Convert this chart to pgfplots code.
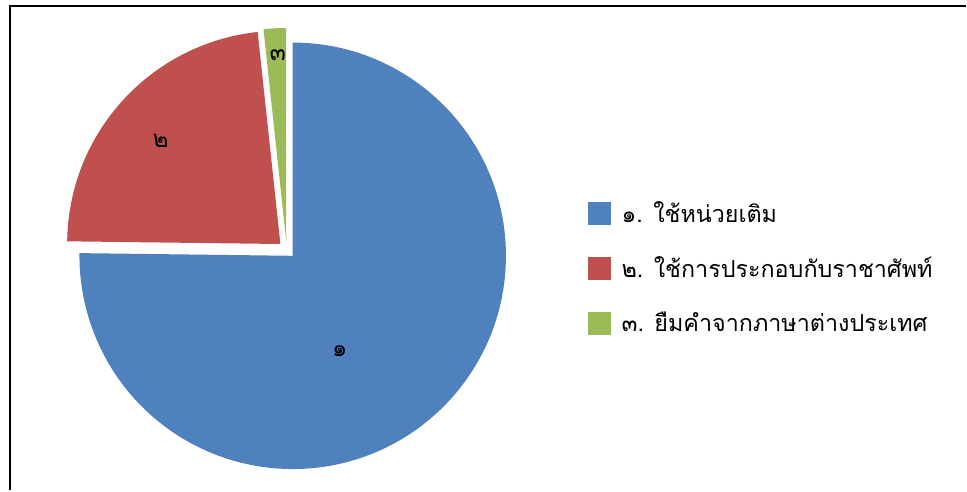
\documentclass[border=0pt]{standalone}
\usepackage{pgfplots}
\pgfplotsset{compat=1.18}
\usepackage{pgfplotstable}
\usepackage{fontspec}
\newfontfamily\thaifont[Script=Thai]{Loma}
\definecolor{cblue}{HTML}{4F81BD}
\definecolor{cred}{HTML}{C0504D}
\definecolor{cgreen}{HTML}{9BBB59}

% shares of the three categories (percent)
\pgfplotstableread{
share
75.2
23.1
1.7
}\piedata

\begin{document}%
\begin{tikzpicture}
\pgfplotstablegetelem{0}{share}\of\piedata \let\va\pgfplotsretval
\pgfplotstablegetelem{1}{share}\of\piedata \let\vb\pgfplotsretval
\pgfplotstablegetelem{2}{share}\of\piedata \let\vc\pgfplotsretval
\pgfmathsetmacro\tot{\va+\vb+\vc}
\pgfmathsetmacro\sA{90}
\pgfmathsetmacro\eA{\sA-360*(\va/\tot)}
\pgfmathsetmacro\mA{(\sA+\eA)/2}
\pgfmathsetmacro\sB{\eA}
\pgfmathsetmacro\eB{\sB-360*(\vb/\tot)}
\pgfmathsetmacro\mB{(\sB+\eB)/2}
\pgfmathsetmacro\sC{\eB}
\pgfmathsetmacro\eC{\sC-360*(\vc/\tot)}
\pgfmathsetmacro\mC{(\sC+\eC)/2}
\def\R{160.1pt}
\def\X{6.4pt}
\begin{axis}[
  x=0.75pt, y=0.75pt,
  xmin=0, xmax=967, ymin=0, ymax=491,
  hide axis, clip=false,
  legend style={at={(axis cs:589,289)}, anchor=north west, draw=none, fill=none,
    inner sep=0pt, outer sep=0pt, row sep=24pt,
    nodes={inner sep=0pt, anchor=west},
    font=\thaifont\fontsize{17.5}{20}\selectfont,
    /tikz/every odd column/.append style={column sep=8pt}},
  legend cell align=left,
  legend image code/.code={\fill[#1] (0pt,-8.25pt) rectangle (16.5pt,8.25pt);},
]
\path (axis cs:0,0) rectangle (axis cs:967,491);
\draw[line width=1.5pt] (axis cs:10,0) -- (axis cs:10,485) -- (axis cs:967,485);
\fill[cblue] (axis cs:287,241) ++(\mA:\X) -- ++(\sA:\R) arc[start angle=\sA, end angle=\eA, radius=\R] -- cycle;
\fill[cred] (axis cs:287,241) ++(\mB:\X) -- ++(\sB:\R) arc[start angle=\sB, end angle=\eB, radius=\R] -- cycle;
\fill[cgreen] (axis cs:287,241) ++(\mC:\X) -- ++(\sC:\R) arc[start angle=\sC, end angle=\eC, radius=\R] -- cycle;
\node[font=\thaifont\fontsize{18}{20}\selectfont] at (axis cs:340,139) {๑};
\node[font=\thaifont\fontsize{18}{20}\selectfont] at (axis cs:161,350) {๒};
\node[font=\thaifont\fontsize{18}{20}\selectfont] at (axis cs:278,436) {๓};
\addlegendimage{cblue}
\addlegendentry{๑. ใช้หน่วยเติม}
\addlegendimage{cred}
\addlegendentry{๒. ใช้การประกอบกับราชาศัพท์}
\addlegendimage{cgreen}
\addlegendentry{๓. ยืมคำจากภาษาต่างประเทศ}
\end{axis}
\end{tikzpicture}%
\end{document}
